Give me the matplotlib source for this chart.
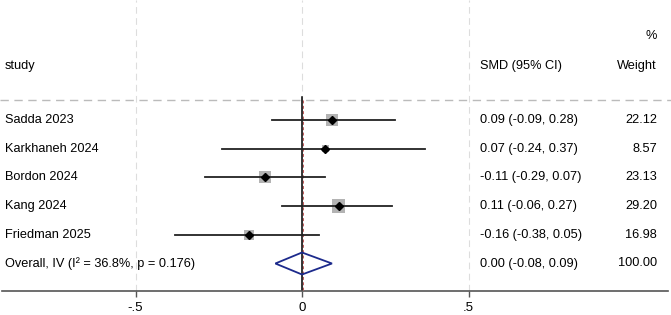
import matplotlib
matplotlib.use("Agg")
import matplotlib.pyplot as plt
from matplotlib.patches import Polygon, Rectangle
import numpy as np

plt.rcParams['font.family'] = ['Liberation Sans', 'DejaVu Sans']

studies = ["Sadda 2023", "Karkhaneh 2024", "Bordon 2024", "Kang 2024", "Friedman 2025"]
smd = [0.09, 0.07, -0.11, 0.11, -0.16]
lo = [-0.09, -0.24, -0.29, -0.06, -0.38]
hi = [0.28, 0.37, 0.07, 0.27, 0.05]
weights = [22.12, 8.57, 23.13, 29.20, 16.98]
smd_labels = ["0.09 (-0.09, 0.28)", "0.07 (-0.24, 0.37)", "-0.11 (-0.29, 0.07)",
              "0.11 (-0.06, 0.27)", "-0.16 (-0.38, 0.05)"]
weight_labels = ["22.12", "8.57", "23.13", "29.20", "16.98"]
overall_label = "Overall, IV (I\u00b2 = 36.8%, p = 0.176)"
overall_est, overall_lo, overall_hi = 0.00, -0.08, 0.09
overall_ci_label = "0.00 (-0.08, 0.09)"
overall_weight_label = "100.00"
xticks = [-0.5, 0, 0.5]
xtick_labels = ["-.5", "0", ".5"]

W, H = 671, 315
fig = plt.figure(figsize=(W/100, H/100), dpi=100)
axis_px = 291
ax = fig.add_axes([0, (H-axis_px)/H, 1, axis_px/H])
scale = 333.0
x0px = 302.0
ax.set_xlim((0 - x0px)/scale, (W - x0px)/scale)
ax.set_ylim(axis_px, 0)

def px2x(p):
    return (p - x0px)/scale

for s in ['left', 'right', 'top']:
    ax.spines[s].set_visible(False)
ax.spines['bottom'].set_color('#555555')
ax.spines['bottom'].set_linewidth(1.2)
ax.spines['bottom'].set_bounds(px2x(2), px2x(668))
ax.set_yticks([])
ax.set_xticks(xticks)
ax.set_xticklabels(xtick_labels)
ax.tick_params(axis='x', length=4, width=1, color='#555555', labelsize=9.5, pad=4)

for xt in xticks:
    ax.axvline(xt, color='#dddddd', lw=0.8, ls=(0, (6, 4)), zorder=0)

ax.axhline(100, color='#bbbbbb', lw=1.0, ls=(0, (6, 4)), zorder=0)

fs = 9.2
lx, cx, wx = 5, 480, 657
ax.text(px2x(lx), 66, "study", ha='left', va='center', fontsize=fs)
ax.text(px2x(cx), 66, "SMD (95% CI)", ha='left', va='center', fontsize=fs)
ax.text(px2x(wx), 36, "%", ha='right', va='center', fontsize=fs)
ax.text(px2x(wx), 66, "Weight", ha='right', va='center', fontsize=fs)

ax.plot([0, 0], [97, axis_px], color='black', lw=1.1, zorder=2)
ax.plot([overall_est + 0.6/scale]*2, [100, axis_px], color='#c05a5a', lw=0.7,
        ls=(0, (3, 2.5)), zorder=3)

row0, step = 120.0, 28.7
maxw = max(weights)
for i, (name, m, l, h, w, sl, wl) in enumerate(zip(studies, smd, lo, hi, weights,
                                                  smd_labels, weight_labels)):
    y = row0 + i*step
    side_px = 13.5*np.sqrt(w/maxw)
    ax.add_patch(Rectangle((m - side_px/2/scale, y - side_px/2), side_px/scale, side_px,
                           facecolor='#b3b3b3', edgecolor='none', zorder=2))
    ax.plot([l, h], [y, y], color='#222222', lw=1.3, zorder=4)
    ax.plot([m], [y], marker='D', color='black', ms=4, zorder=5)
    ax.text(px2x(lx), y, name, ha='left', va='center', fontsize=fs)
    ax.text(px2x(cx), y, sl, ha='left', va='center', fontsize=fs)
    ax.text(px2x(wx), y, wl, ha='right', va='center', fontsize=fs)

yo = row0 + 5*step
hh = 11
diamond = Polygon([[overall_lo, yo], [overall_est, yo - hh], [overall_hi, yo],
                   [overall_est, yo + hh]], closed=True, facecolor='none',
                  edgecolor='#1c2a8c', lw=1.3, zorder=6)
ax.add_patch(diamond)
ax.text(px2x(lx), yo, overall_label, ha='left', va='center', fontsize=fs)
ax.text(px2x(cx), yo, overall_ci_label, ha='left', va='center', fontsize=fs)
ax.text(px2x(wx), yo, overall_weight_label, ha='right', va='center', fontsize=fs)

fig.savefig("out.png", dpi=100)
